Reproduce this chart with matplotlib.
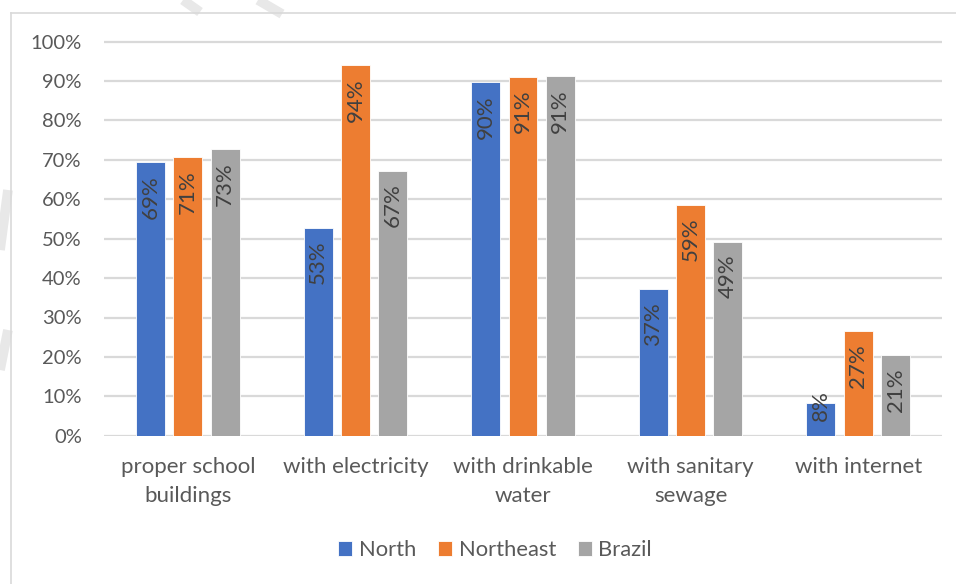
import numpy as np
import matplotlib
matplotlib.use("Agg")
import matplotlib.pyplot as plt
from matplotlib.lines import Line2D

plt.rcParams['font.family'] = ['Lato', 'DejaVu Sans']

# data
categories = ["proper school\nbuildings", "with electricity", "with drinkable\nwater",
              "with sanitary\nsewage", "with internet"]
series = ["North", "Northeast", "Brazil"]
north = [0.694, 0.528, 0.898, 0.372, 0.083]
northeast = [0.707, 0.941, 0.911, 0.586, 0.265]
brazil = [0.728, 0.673, 0.913, 0.492, 0.205]
labels_north = ["69%", "53%", "90%", "37%", "8%"]
labels_northeast = ["71%", "94%", "91%", "59%", "27%"]
labels_brazil = ["73%", "67%", "91%", "49%", "21%"]
yticks = [0.0, 0.1, 0.2, 0.3, 0.4, 0.5, 0.6, 0.7, 0.8, 0.9, 1.0]
ytick_labels = ["0%", "10%", "20%", "30%", "40%", "50%", "60%", "70%", "80%", "90%", "100%"]

colors = ['#4472C4', '#ED7D31', '#A5A5A5']
txt = '#595959'
grid = '#D9D9D9'

W, H = 956, 584
fig = plt.figure(figsize=(W / 100, H / 100), dpi=100)

# faint watermark strokes and the chart border
for (x0, y0, x1, y1) in [(183, 0, 200, 12), (258, 0, 282, 14), (0, 250, 8, 190), (0, 370, 8, 330)]:
    fig.add_artist(Line2D([x0 / W, x1 / W], [1 - y0 / H, 1 - y1 / H], color='#E8E8E8',
                          lw=7, solid_capstyle='butt', zorder=0))
fig.add_artist(Line2D([11 / W, 11 / W], [0, 1 - 13 / H], color=grid, lw=1.2))
fig.add_artist(Line2D([11 / W, 1], [1 - 13 / H, 1 - 13 / H], color=grid, lw=1.2))

ymax = 1.02
ax_h = 394 / H * ymax
ax = fig.add_axes([104 / W, 148.3 / H, 838 / W, ax_h])

x = np.arange(len(categories))
width = 0.173
step = 0.223
all_vals = [north, northeast, brazil]
all_labels = [labels_north, labels_northeast, labels_brazil]
for i, (vals, labs) in enumerate(zip(all_vals, all_labels)):
    pos = x + (i - 1) * step
    bars = ax.bar(pos, vals, width, color=colors[i], edgecolor='white', linewidth=0.6,
                  label=series[i], zorder=3)
    for p, v, lab in zip(pos, vals, labs):
        if v < 0.1:
            ax.annotate(lab, (p, v), xytext=(0, -3), textcoords='offset pixels',
                        rotation=90, ha='center', va='center', fontsize=16,
                        color='#404040', zorder=4)
        else:
            ax.annotate(lab, (p, v), xytext=(0, -13), textcoords='offset pixels',
                        rotation=90, ha='center', va='top', fontsize=16,
                        color='#404040', zorder=4)

ax.set_xlim(-0.5, len(categories) - 0.5)
ax.set_ylim(0, ymax)
ax.set_yticks(yticks)
ax.set_yticklabels(ytick_labels)
ax.set_xticks(x)
ax.set_xticklabels(categories, linespacing=1.6)
ax.tick_params(axis='y', length=0, pad=16, labelsize=14.5, labelcolor=txt)
ax.tick_params(axis='x', length=0, pad=15, labelsize=16, labelcolor=txt)
ax.yaxis.grid(True, color=grid, lw=1.6, zorder=0)
ax.set_axisbelow(True)
for s in ax.spines.values():
    s.set_visible(False)

fig.legend(loc='center', bbox_to_anchor=(495 / W, 1 - 550 / H), ncol=3, frameon=False,
           fontsize=15.8, labelcolor=txt, handlelength=0.64, handleheight=0.64,
           handletextpad=0.3, columnspacing=1.0)

fig.savefig("out.png", dpi=100)
